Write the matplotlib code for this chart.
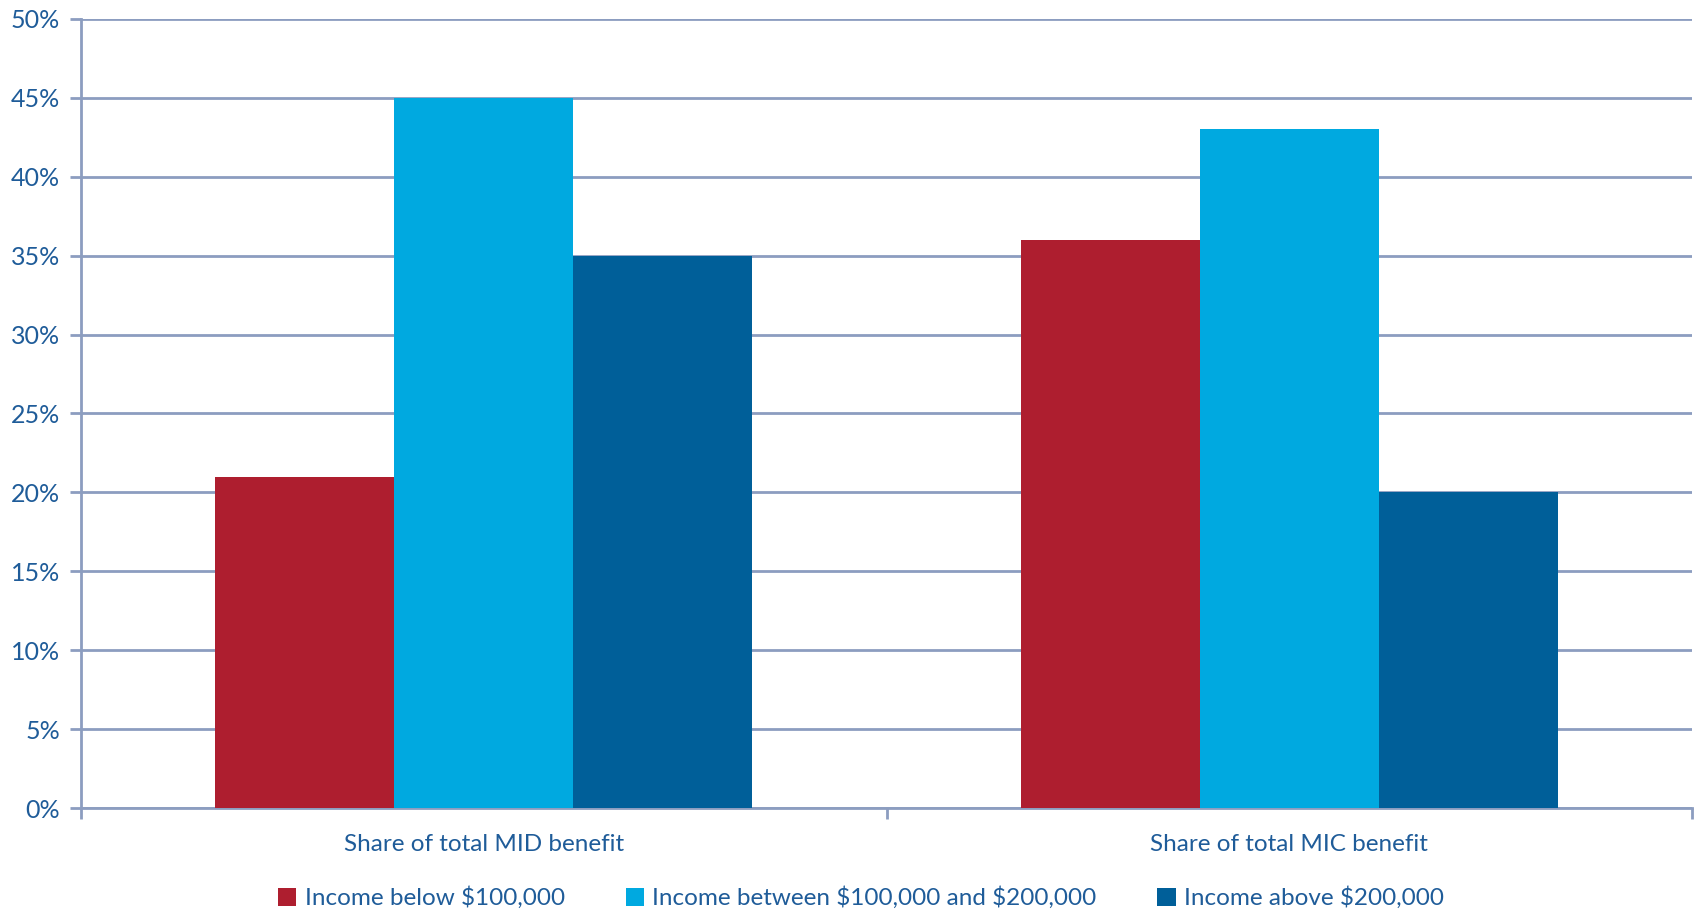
import matplotlib
matplotlib.use("Agg")
import matplotlib.pyplot as plt
import numpy as np
from matplotlib.patches import Patch

categories = ["Share of total MID benefit", "Share of total MIC benefit"]
series_names = ["Income below \\$100,000", "Income between \\$100,000 and \\$200,000", "Income above \\$200,000"]
below_100k = [21, 36]
between = [45, 43]
above_200k = [35, 20]
series_values = [below_100k, between, above_200k]
colors = ["#AE1E2F", "#00A9E0", "#005F99"]
yticks = [0, 5, 10, 15, 20, 25, 30, 35, 40, 45, 50]

text_color = "#1F5C99"
grid_color = "#8C9DC0"
plt.rcParams['font.family'] = ['Lato', 'DejaVu Sans']

fig = plt.figure(figsize=(16.96, 9.13), dpi=100)
ax = fig.add_axes([81/1696, 1 - 808/913, (1692-81)/1696, (808-19)/913])

x = np.arange(len(categories))
w = 1/4.5
for i, (vals, c) in enumerate(zip(series_values, colors)):
    ax.bar(x + (i-1)*w, vals, width=w, color=c, zorder=3, linewidth=0)

ax.set_xlim(-0.5, 1.5)
ax.set_ylim(0, 50)
ax.set_yticks(yticks)
ax.set_yticklabels([f"{t}%" for t in yticks])
ax.yaxis.grid(True, color=grid_color, linewidth=2, zorder=0)
ax.set_axisbelow(True)

ax.set_xticks([-0.5, 0.5, 1.5])
ax.set_xticklabels([])
ax.set_xticks(x, minor=True)
ax.set_xticklabels(categories, minor=True)
ax.tick_params(axis='x', which='minor', length=0, pad=19, labelsize=17.5, labelcolor=text_color)
ax.tick_params(axis='x', which='major', length=8, width=2, color=grid_color, direction='out')
ax.tick_params(axis='y', length=8, width=2, color=grid_color, labelsize=18, labelcolor=text_color, pad=7)

for s in ['top', 'right']:
    ax.spines[s].set_visible(False)
for s in ['left', 'bottom']:
    ax.spines[s].set_color(grid_color)
    ax.spines[s].set_linewidth(2)

handles = [Patch(facecolor=c, label=n) for c, n in zip(colors, series_names)]
leg = fig.legend(handles=handles, loc='center', bbox_to_anchor=(861/1696, 1 - 898/913), ncol=3,
                 frameon=False, fontsize=17.5, handlelength=0.75, handleheight=0.75,
                 handletextpad=0.35, columnspacing=2.5)
for t in leg.get_texts():
    t.set_color(text_color)

fig.savefig("out.png", dpi=100)
